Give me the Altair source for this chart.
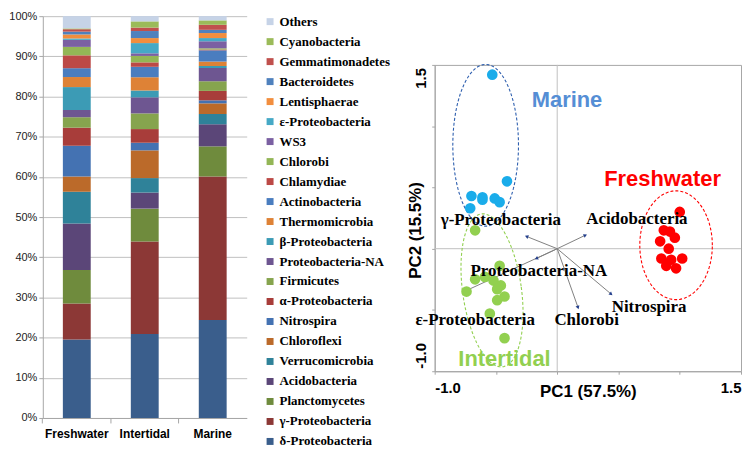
import numpy as np
import pandas as pd
import altair as alt

# ---- stacked bar data (percent of reads), listed bottom -> top of each bar ----
sites = ["Freshwater", "Intertidal", "Marine"]
phyla = ["δ-Proteobacteria", "γ-Proteobacteria", "Planctomycetes", "Acidobacteria",
         "Verrucomicrobia", "Chloroflexi", "Nitrospira", "α-Proteobacteria", "Firmicutes",
         "Proteobacteria-NA", "β-Proteobacteria", "Thermomicrobia", "Actinobacteria",
         "Chlamydiae", "Chlorobi", "WS3", "ε-Proteobacteria", "Lentisphaerae",
         "Bacteroidetes", "Gemmatimonadetes", "Cyanobacteria", "Others"]
freshwater = [19.5, 9.0, 8.3, 11.6, 7.9, 3.8, 7.65, 4.5, 2.6, 1.8, 5.7, 2.5, 2.2,
              3.2, 2.1, 1.75, 0.35, 1.0, 0.7, 0.6, 0.2, 3.05]
intertidal = [20.9, 23.0, 8.2, 4.0, 3.6, 6.9, 1.9, 3.4, 3.9, 4.0, 1.7, 3.3, 2.6,
              1.1, 1.6, 0.65, 2.55, 1.25, 1.75, 0.85, 1.55, 1.3]
marine = [24.4, 35.7, 7.5, 5.5, 2.55, 2.65, 0.75, 2.35, 2.4, 3.3, 0.5, 1.1, 2.8,
          0.2, 0.3, 1.75, 0.8, 1.25, 0.8, 1.25, 1.1, 1.05]
bar_colors = ["#3A5E8C", "#8C3836", "#6F8B3D", "#5B4678", "#2F8299", "#BB6A2A",
              "#4472B2", "#A83D3A", "#86A44E", "#6E5691", "#3C9BB5", "#DE8236",
              "#4A7DBF", "#BC4946", "#93B656", "#7B60A2", "#46A9C6", "#F28E3E",
              "#4F81BD", "#C0504D", "#9BBB59", "#C6D3E7"]

# ---- PCA scores ----
marine_x = [-0.53, -0.41, -0.70, -0.61, -0.61, -0.51, -0.47, -0.71]
marine_y = [1.42, 0.55, 0.43, 0.42, 0.40, 0.41, 0.38, 0.33]
intertidal_x = [-0.67, -0.47, -0.67, -0.59, -0.52, -0.46, -0.49, -0.74, -0.43, -0.49, -0.55, -0.43]
intertidal_y = [0.15, -0.14, -0.25, -0.23, -0.26, -0.30, -0.33, -0.35, -0.39, -0.42, -0.53, -0.73]
fresh_x = [1.00, 0.87, 0.92, 0.96, 0.84, 0.91, 0.85, 0.93, 1.02, 0.89, 0.97]
fresh_y = [0.30, 0.15, 0.14, 0.09, 0.06, 0.00, -0.08, -0.09, -0.08, -0.14, -0.16]

# loading vectors (end points) and their label positions
vec_names = ["γ-Proteobacteria", "Acidobacteria", "Proteobacteria-NA",
             "ε-Proteobacteria", "Chlorobi", "Nitrospira"]
vec_x = [-0.25, 0.23, -0.17, -0.76, 0.17, 0.44]
vec_y = [0.10, 0.11, -0.08, -0.35, -0.48, -0.37]
lab_x = [-0.46, 0.65, -0.15, -0.67, 0.24, 0.75]
lab_y = [0.23, 0.24, -0.18, -0.58, -0.58, -0.48]

# group ellipses: centre, semi-axes, tilt (deg), colour
ell_names = ["Marine", "Intertidal", "Freshwater"]
ell_cx = [-0.584, -0.532, 0.97]
ell_cy = [0.844, -0.34, 0.028]
ell_a = [0.268, 0.24, 0.296]     # horizontal-ish semi-axis
ell_b = [0.66, 0.63, 0.444]      # vertical-ish semi-axis
ell_tilt = [0, 8, 0]
ell_colors = ["#2E5FAF", "#92D050", "#FF0000"]

grp_names = ["Marine", "Freshwater", "Intertidal"]
grp_x = [0.08, 0.86, -0.43]
grp_y = [1.21, 0.57, -0.90]
grp_colors = ["#558ED5", "#FF0000", "#92D050"]

# ---------------- stacked bar panel ----------------
rows = []
for site, vals in zip(sites, [freshwater, intertidal, marine]):
    for i, (p, v) in enumerate(zip(phyla, vals)):
        rows.append({"site": site, "phylum": p, "pct": v, "rank": i})
bars_df = pd.DataFrame(rows)

bars = alt.Chart(bars_df).mark_bar().encode(
    x=alt.X("site:N", sort=sites, title=None,
            scale=alt.Scale(paddingInner=0.59, paddingOuter=0.295),
            axis=alt.Axis(labelAngle=0, labelFont="Liberation Sans", labelFontWeight="bold",
                          labelFontSize=12, labelColor="black", labelPadding=6,
                          bandPosition=-0.72, tickSize=5,
                          tickColor="#A6A6A6", domainColor="#A6A6A6")),
    y=alt.Y("pct:Q", stack="zero", title=None,
            scale=alt.Scale(domain=[0, 100], nice=False),
            axis=alt.Axis(values=list(range(0, 101, 10)), labelExpr="datum.value + '%'",
                          labelFont="Liberation Sans", labelFontSize=11, labelColor="#222",
                          labelPadding=2, tickSize=4, tickColor="#A6A6A6",
                          domainColor="#A6A6A6", gridColor="#BFBFBF")),
    color=alt.Color("phylum:N",
                    scale=alt.Scale(domain=phyla[::-1], range=bar_colors[::-1]),
                    legend=alt.Legend(title=None, orient="none", legendX=222, legendY=-1,
                                      symbolType="square", symbolSize=49,
                                      symbolStrokeWidth=0, labelFont="Liberation Serif",
                                      labelFontWeight="bold", labelFontSize=13,
                                      labelColor="black", labelOffset=3, rowPadding=6.1,
                                      padding=0, labelLimit=200)),
    order=alt.Order("rank:Q", sort="ascending"),
).properties(width=205, height=404)

# ---------------- PCA panel ----------------
pts = pd.DataFrame({
    "x": marine_x + intertidal_x + fresh_x,
    "y": marine_y + intertidal_y + fresh_y,
    "c": ["#1AACEA"] * len(marine_x) + ["#92D050"] * len(intertidal_x) + ["#FF0000"] * len(fresh_x),
})

ell_rows = []
t = np.linspace(0, 2 * np.pi, 91)
for n, cx, cy, a, b, tilt, col in zip(ell_names, ell_cx, ell_cy, ell_a, ell_b, ell_tilt, ell_colors):
    ph = np.radians(tilt)
    ex = cx + a * np.cos(t) * np.cos(ph) - b * np.sin(t) * np.sin(ph)
    ey = cy + a * np.cos(t) * np.sin(ph) + b * np.sin(t) * np.cos(ph)
    for k in range(len(t)):
        ell_rows.append({"g": n, "k": k, "x": ex[k], "y": ey[k], "c": col})
ell_df = pd.DataFrame(ell_rows)

vec_df = pd.DataFrame({"name": vec_names, "x": vec_x, "y": vec_y,
                       "x0": 0.0, "y0": 0.0, "lx": lab_x, "ly": lab_y})
vec_df["ang"] = np.mod(np.degrees(np.arctan2(vec_df["x"], vec_df["y"])), 360)

grp_df = pd.DataFrame({"name": grp_names, "x": grp_x, "y": grp_y, "c": grp_colors})

xs = alt.Scale(domain=[-1, 1.5], nice=False, zero=False)
ys = alt.Scale(domain=[-1, 1.5], nice=False, zero=False)
ticks = [-1, -0.5, 0, 0.5, 1, 1.5]
lab_expr = "datum.value == -1 ? '-1.0' : datum.value == 1.5 ? '1.5' : ''"
x_axis = alt.Axis(values=ticks, labelExpr=lab_expr, labelFlush=True, grid=False,
                  labelFont="Liberation Sans", labelFontWeight="bold", labelFontSize=15,
                  labelColor="black", labelPadding=6, tickSize=3, tickColor="#A6A6A6",
                  domainColor="#A6A6A6", title="PC1 (57.5%)", titleFont="Liberation Sans",
                  titleFontWeight="bold", titleFontSize=17, titleColor="black",
                  titleY=20, titleBaseline="middle")
y_axis = alt.Axis(values=ticks, labelExpr=lab_expr, grid=False, labelAngle=270,
                  labelAlign="center", labelBaseline="bottom",
                  labelOffset={"condition": {"test": "datum.value == 1.5", "value": 13}, "value": -16},
                  labelFont="Liberation Sans", labelFontWeight="bold", labelFontSize=15,
                  labelColor="black", labelPadding=3, tickSize=3, tickColor="#A6A6A6",
                  domainColor="#A6A6A6", title="PC2 (15.5%)", titleFont="Liberation Sans",
                  titleFontWeight="bold", titleFontSize=17, titleColor="black",
                  titleX=-19, titleY=166, titleAlign="center", titleBaseline="middle")


def X(f="x"):
    return alt.X(f"{f}:Q", scale=xs, axis=x_axis)


def Y(f="y"):
    return alt.Y(f"{f}:Q", scale=ys, axis=y_axis)


zero = pd.DataFrame({"x": [0.0], "y": [0.0]})
vline = alt.Chart(zero).mark_rule(color="#BFBFBF", strokeWidth=1).encode(x=X())
hline = alt.Chart(zero).mark_rule(color="#BFBFBF", strokeWidth=1).encode(y=Y())

ellipses = alt.Chart(ell_df).mark_line(strokeDash=[3, 2], strokeWidth=1.1).encode(
    x=X(), y=Y(), detail="g:N", order="k:Q", color=alt.Color("c:N", scale=None))

arrows = alt.Chart(vec_df).mark_rule(color="#808080", strokeWidth=1).encode(
    x=X("x0"), y=Y("y0"), x2="x:Q", y2="y:Q")

heads = alt.Chart(vec_df).mark_point(shape="triangle-up", filled=True, size=16,
                                     color="#233F8C", opacity=1).encode(
    x=X(), y=Y(), angle=alt.Angle("ang:Q", scale=None))

dots = alt.Chart(pts).mark_circle(size=115, opacity=1).encode(
    x=X(), y=Y(), color=alt.Color("c:N", scale=None))

vec_labels = alt.Chart(vec_df).mark_text(font="Liberation Serif", fontWeight="bold",
                                         fontSize=17, color="black").encode(
    x=X("lx"), y=Y("ly"), text="name:N")

grp_labels = alt.Chart(grp_df).mark_text(font="Liberation Sans", fontWeight="bold",
                                         fontSize=22).encode(
    x=X(), y=Y(), text="name:N", color=alt.Color("c:N", scale=None))

pca = alt.layer(vline, hline, ellipses, arrows, heads, dots, vec_labels, grp_labels).properties(
    width=308, height=308,
    view=alt.ViewBackground(stroke="#A6A6A6", strokeWidth=1),
)

# invisible block that pushes the PCA panel down to where it sits in the figure
spacer = alt.Chart(zero).mark_point(opacity=0).encode(
    x=alt.X("x:Q", axis=None), y=alt.Y("y:Q", axis=None)
).properties(width=308, height=36)

right = alt.vconcat(spacer, pca, spacing=8)

chart = alt.hconcat(bars, right, spacing=14).resolve_scale(color="independent").resolve_legend(
    color="independent").properties(padding=0).configure_view(stroke="transparent")

chart.save("out.html", embed_options={"renderer": "svg", "actions": False})
